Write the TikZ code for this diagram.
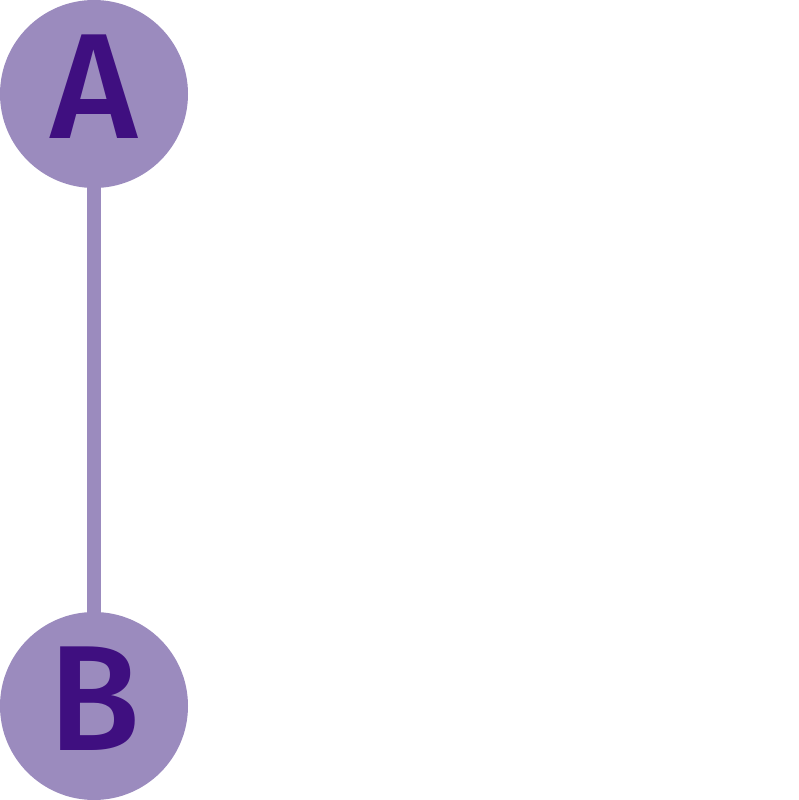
\documentclass[tikz,border=0pt]{standalone}
\usepackage{fontspec}
\setmainfont{Fira Sans}[UprightFont=* Medium]
\definecolor{nodefill}{HTML}{9B8BBE}
\definecolor{nodetext}{HTML}{3F0F80}
\begin{document}
\begin{tikzpicture}[x=1pt,y=1pt,
  vnode/.style={circle,fill=nodefill,minimum size=188pt,inner sep=0pt,text=nodetext,
    text height=103pt,text depth=14pt,font=\fontsize{150}{150}\selectfont},
  edge/.style={draw=nodefill,line width=14pt}]
\useasboundingbox (0,0) rectangle (798,800);
\coordinate (ca) at (94,706);
\coordinate (cb) at (94,94);
\draw[edge] (ca) -- (cb);
\node[vnode] (A) at (ca) {A};
\node[vnode] (B) at (cb) {B};
\end{tikzpicture}
\end{document}
